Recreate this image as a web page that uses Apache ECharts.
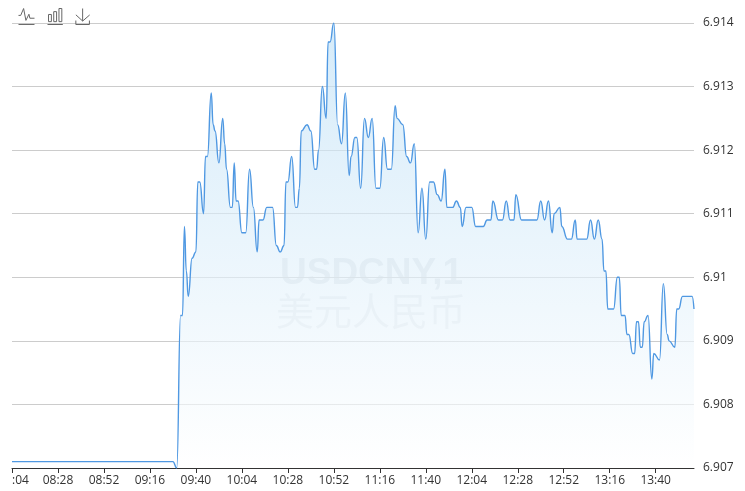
<!DOCTYPE html>
<html>
<head>
<meta charset="utf-8">
<style>html,body{margin:0;padding:0;background:#fff}#c{width:745px;height:491px}</style>
<script src="https://cdn.jsdelivr.net/npm/echarts@6/dist/echarts.min.js"></script>
</head>
<body>
<div id="c"></div>
<script>
// minutes after 08:04
const minutes = [0,84,86,88,89,90,91,92,94,96,97,98,100,101,102,104,105,106,108,110,111,112,114,115,116,117,118,120,122,124,126,128,129,131,133,136,138,140,142,143,144,146,148,149,150,151,154,156,158,159,160,162,164,165,166,168,170,172,174,176,177,179,180,182,184,186,188,190,192,194,196,198,200,201,204,206,208,210,212,214,216,218,220,222,224,226,227,230,232,234,235,237,240,242,246,248,250,251,254,256,258,260,262,263,266,274,276,278,280,282,283,286,287,290,292,294,295,300,302,304,306,308,309,310,311,314,316,317,318,320,321,322,324,325,326,327,328,329,330,332,334,335,338,340,342,343,346,347,348,350,355,356];
const prices = [6.9071,6.9071,6.907,6.9094,6.9094,6.9108,6.9101,6.9097,6.9103,6.9104,6.9115,6.9115,6.911,6.9119,6.9119,6.9129,6.9124,6.9123,6.9118,6.9125,6.9121,6.9117,6.9111,6.9111,6.9118,6.9112,6.9112,6.9107,6.9107,6.9117,6.9111,6.9104,6.9109,6.9109,6.9111,6.9111,6.9105,6.9104,6.9105,6.9115,6.9115,6.9119,6.9111,6.9111,6.9114,6.9123,6.9124,6.9123,6.9117,6.9117,6.912,6.913,6.9125,6.9137,6.9137,6.914,6.9124,6.9121,6.9129,6.9116,6.9119,6.9122,6.9122,6.9114,6.9125,6.9122,6.9125,6.9114,6.9114,6.9122,6.9117,6.9117,6.9127,6.9125,6.9124,6.9119,6.9118,6.9121,6.9107,6.9114,6.9106,6.9115,6.9115,6.9113,6.9112,6.9117,6.9111,6.9111,6.9112,6.9111,6.9108,6.9111,6.9111,6.9108,6.9108,6.9109,6.9109,6.9112,6.9109,6.9109,6.9112,6.9109,6.9109,6.9113,6.9109,6.9109,6.9112,6.9109,6.9112,6.9107,6.911,6.9111,6.9108,6.9106,6.9106,6.9109,6.9106,6.9106,6.9109,6.9106,6.9109,6.9106,6.9101,6.9101,6.9095,6.9095,6.91,6.91,6.9094,6.9094,6.9091,6.9091,6.9088,6.9088,6.9093,6.9093,6.9089,6.9089,6.9093,6.9094,6.9084,6.9088,6.9087,6.9099,6.9091,6.909,6.9089,6.9095,6.9095,6.9097,6.9097,6.9095];
const tickLabels = [":04","08:28","08:52","09:16","09:40","10:04","10:28","10:52","11:16","11:40","12:04","12:28","12:52","13:16","13:40"];
const watermarkLines = ["USDCNY,1","美元人民币"];

const uiFont = '"Open Sans","Noto Sans",sans-serif';
const chart = echarts.init(document.getElementById('c'), null, {renderer:'canvas'});
chart.setOption({
  animation:false,
  backgroundColor:'#fff',
  grid:{left:12,right:51,top:23,bottom:23},
  toolbox:{
    left:1,top:-9,itemSize:16,itemGap:8,orient:'horizontal',
    iconStyle:{borderColor:'#666',borderWidth:1,color:'none'},
    feature:{magicType:{type:['line','bar'],title:{line:' ',bar:' '}},saveAsImage:{title:' '}}
  },
  graphic:[
    {type:'text',left:280,top:255,z:0,style:{text:watermarkLines[0],font:'bold 37px "Liberation Sans",Arial,sans-serif',fill:'rgba(60,80,100,0.14)'}},
    {type:'text',left:276,top:292,z:0,style:{text:watermarkLines[1],font:'38px "Noto Sans CJK SC",sans-serif',fill:'rgba(60,80,100,0.1)'}}
  ],
  xAxis:{
    type:'value',min:0,max:356,interval:24,
    axisLine:{show:true,onZero:false,lineStyle:{color:'#333',width:1}},
    axisTick:{show:true,length:5,lineStyle:{color:'#333'}},
    splitLine:{show:false},
    axisLabel:{
      color:'#333',fontSize:12,fontFamily:uiFont,margin:7,alignMinLabel:'left',hideOverlap:false,showMaxLabel:false,
      formatter:v=>tickLabels[v/24]||''
    }
  },
  yAxis:{
    type:'value',position:'right',min:6.907,max:6.914,interval:0.001,
    axisLine:{show:false},axisTick:{show:false},
    splitLine:{show:true,lineStyle:{color:'#ccc',width:1}},
    axisLabel:{color:'#333',fontSize:12,fontFamily:uiFont,margin:9}
  },
  series:[{
    type:'line',
    data:minutes.map((m,i)=>[m,prices[i]]),
    showSymbol:false,smooth:0.5,smoothMonotone:'x',
    lineStyle:{color:'#4f98e2',width:1.4},
    itemStyle:{color:'#4f98e2'},
    areaStyle:{origin:'start',color:{type:'linear',x:0,y:0,x2:0,y2:1,colorStops:[
      {offset:0,color:'rgba(190,224,246,0.9)'},
      {offset:1,color:'rgba(255,255,255,0.9)'}
    ]}}
  }]
});
</script>
</body>
</html>
